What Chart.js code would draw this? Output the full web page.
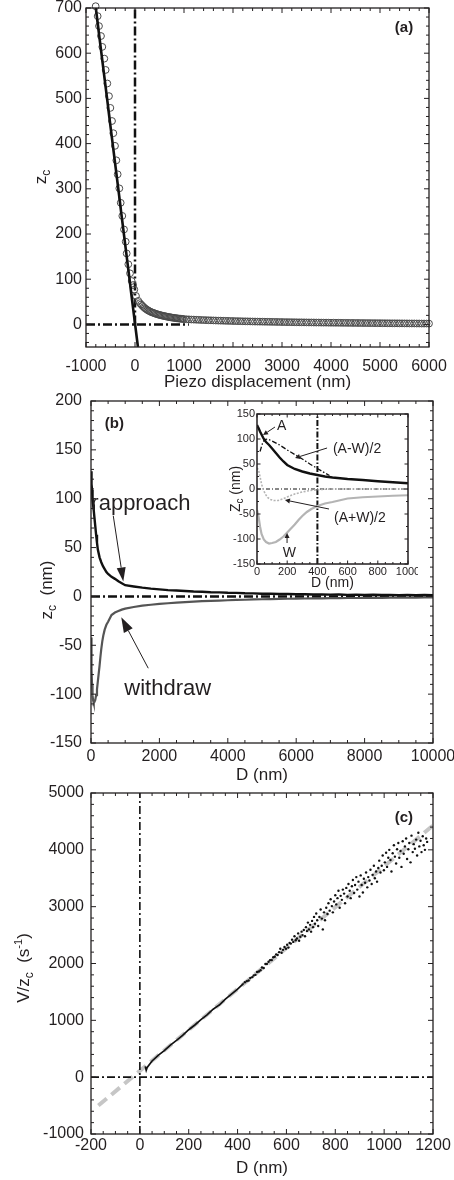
<!DOCTYPE html>
<html><head><meta charset="utf-8">
<script src="https://cdn.jsdelivr.net/npm/chart.js@4/dist/chart.umd.min.js"></script>
<style>
html,body{margin:0;padding:0;background:#fff;}
#wrap{position:relative;width:454px;height:1180px;overflow:hidden;background:#fff;}
canvas{position:absolute;}
</style></head><body>
<div id="wrap">
<canvas id="ca" width="454" height="392" style="left:0;top:0;width:454px;height:392px"></canvas>
<canvas id="cb" width="454" height="396" style="left:0;top:392px;width:454px;height:396px"></canvas>
<canvas id="cc" width="454" height="396" style="left:0;top:784px;width:454px;height:396px"></canvas>
<canvas id="ci" width="196" height="190" style="left:222px;top:404px;width:196px;height:190px"></canvas>
</div>
<script>
// ---------------- Panel (a) data ----------------
const aTicksX = [-1000,0,1000,2000,3000,4000,5000,6000];
const aTicksY = [0,100,200,300,400,500,600,700];
const aPiezo = [-803,-762,-735,-694,-667,-626,-599,-565,-531,-503,-469,-442,-408,-381,-354,-320,-292,-259,-224,-190,-170,-136,-102,-68,-40,-14,20,67,
  100,125,150,175,200,225,250,275,300,325,350,375,400,425,450,475,500,525,550,575,600,625,650,675,700,725,750,775,800,825,850,875,900,925,950,975,1000,
  1050,1100,1150,1200,1250,1300,1350,1400,1450,1500,1550,1600,1650,1700,1750,1800,1850,1900,1950,2000,
  2050,2100,2150,2200,2250,2300,2350,2400,2450,2500,2550,2600,2650,2700,2750,2800,2850,2900,2950,3000,
  3050,3100,3150,3200,3250,3300,3350,3400,3450,3500,3550,3600,3650,3700,3750,3800,3850,3900,3950,4000,
  4050,4100,4150,4200,4250,4300,4350,4400,4450,4500,4550,4600,4650,4700,4750,4800,4850,4900,4950,5000,
  5050,5100,5150,5200,5250,5300,5350,5400,5450,5500,5550,5600,5650,5700,5750,5800,5850,5900,5950,6000];
const aZc = [704,682,660,638,614,588,563,533,505,479,450,423,395,363,332,301,269,240,210,183,157,133,113,96,87,77,63,52,
  47,44,41,38.5,36,34,32,30.5,29,27.5,26.5,25.5,24.5,23.5,22.5,21.7,21,20.3,19.6,19,18.4,17.8,17.2,16.7,16.2,15.7,15.2,14.8,14.4,14,13.6,13.2,12.9,12.6,12.3,12,11.7,
  11.4,11.1,10.8,10.6,10.3,10.1,9.8,9.6,9.4,9.2,9.0,8.8,8.6,8.4,8.3,8.1,7.9,7.8,7.6,7.5,
  7.3,7.2,7.1,6.9,6.8,6.7,6.6,6.4,6.3,6.2,6.1,6.0,5.9,5.8,5.7,5.6,5.5,5.4,5.3,5.2,
  5.1,5.0,5.0,4.9,4.8,4.7,4.6,4.6,4.5,4.4,4.3,4.3,4.2,4.1,4.1,4.0,3.9,3.9,3.8,3.7,
  3.7,3.6,3.6,3.5,3.4,3.4,3.3,3.3,3.2,3.2,3.1,3.1,3.0,3.0,2.9,2.9,2.8,2.8,2.7,2.7,
  2.6,2.6,2.5,2.5,2.4,2.4,2.4,2.3,2.3,2.2,2.2,2.1,2.1,2.1,2.0,2.0,1.9,1.9,1.9,1.8];
const aFitPiezo = [-800, 60];
const aFitZc = [700, -50];
const aRefVX = [0, 0], aRefVY = [0, 700];
const aRefHX = [-1000, 1100], aRefHY = [0, 0];

// ---------------- Panel (b) data ----------------
const bTicksX = [0,2000,4000,6000,8000,10000];
const bTicksY = [-150,-100,-50,0,50,100,150,200];
const approachD = [0,10,20,30,40,50,60,80,100,125,150,175,200,250,300,350,400,450,500,600,700,800,900,
  1000,1250,1500,1750,2000,2250,2500,2750,3000,3250,3500,3750,4000,4250,4500,4750,5000,5250,5500,5750,6000,6250,6500,6750,7000,7250,7500,7750,8000,8250,8500,8750,9000,9250,9500,9750,10000];
const approachZ = [128,122,115,109,103,98,94,88,81,72,63,55,48,40,35,31,28,25,23,20,18,15.5,13.5,
  11.5,10.2,9.0,8.0,7.2,6.5,6.0,5.6,5.0,4.8,4.3,4.1,3.7,3.6,3.2,3.1,2.8,2.8,2.5,2.5,2.2,2.3,2.0,2.1,1.8,1.9,1.6,1.8,1.5,1.7,1.4,1.6,1.3,1.5,1.2,1.4,1.2];
const withdrawD = [0,10,20,30,45,60,80,100,125,150,175,200,225,250,275,300,330,360,400,450,500,600,700,800,900,
  1000,1250,1500,1750,2000,2250,2500,2750,3000,3250,3500,3750,4000,4250,4500,4750,5000,5250,5500,5750,6000,6250,6500,6750,7000,7250,7500,7750,8000,8250,8500,8750,9000,9250,9500,9750,10000];
const withdrawZ = [-42,-55,-75,-90,-101,-106,-109,-108,-106,-101,-95,-87,-79,-71,-62,-54,-46,-40,-34,-29,-26,-19,-16.5,-15,-13.5,
  -12.5,-10.8,-9.5,-8.5,-7.7,-7.0,-6.4,-5.8,-5.3,-4.9,-4.5,-4.2,-3.9,-3.6,-3.4,-3.1,-2.9,-2.7,-2.6,-2.4,-2.3,-2.1,-2.0,-1.9,-1.8,-1.7,-1.6,-1.6,-1.5,-1.4,-1.4,-1.3,-1.3,-1.2,-1.2,-1.1,-1.1];
const bRefHX = [0, 10000], bRefHY = [0, 0];

// inset
const iTicksX = [0,200,400,600,800,1000];
const iTicksY = [-150,-100,-50,0,50,100,150];
const amwD = [20,35,50,70,100,150,200,250,300,350,400,450,480];
const amwZ = [75,90,99,100,96,88,78,69,60,50,41,32,27];
const apwD = [0,10,20,30,40,55,70,90,110,140,170,200,250,300,350,400,450,500,600,800,1000];
const apwZ = [42,38,25,10,0,-10,-17,-21,-23,-23,-20,-16,-10,-6,-3,-1.5,-0.5,0,0,0,0];
const iRefVX = [400, 400], iRefVY = [-150, 150];
const iRefHX = [0, 1000], iRefHY = [0, 0];

// ---------------- Panel (c) data ----------------
const cTicksX = [-200,0,200,400,600,800,1000,1200];
const cTicksY = [-1000,0,1000,2000,3000,4000,5000];
const cFitD = [-170, 1200];
const cFitV = [-500, 4430];
const cLineD = [22,26,30,50,75,100,125,150,175,200,225,250,275,300,318,325,350,375,400,425];
const cLineV = [190,120,170,285,385,468,565,648,735,835,918,1012,1095,1195,1250,1270,1375,1462,1548,1650];
const cDotD = [430,438,445,452,460,466,473,480,487,494,500,507,514,520,527,533,540,546,552,558,564,570,575,580,586,592,598,603,608,613,618,623,628,633,638,643,648,652,657,662,666,671,676,680,684,688,692,697,701,705,709,713,717,722,726,730,735,740,745,749,754,758,763,768,772,777,781,786,790,795,800,804,809,813,818,822,827,831,836,840,845,850,854,859,863,868,872,877,881,886,890,895,899,904,908,913,917,922,926,931,935,940,944,949,953,958,962,967,971,976,980,985,990,994,999,1003,1008,1012,1017,1021,1026,1030,1035,1040,1044,1049,1053,1058,1062,1067,1071,1076,1080,1085,1090,1094,1099,1103,1108,1112,1117,1121,1126,1131,1135,1140,1144,1149,1153,1158,1162,1167,1172,1176];
const cDotV = [1670,1690,1700,1745,1760,1790,1800,1850,1860,1880,1930,1920,1990,1990,2030,2060,2060,2110,2120,2160,2150,2200,2260,2190,2240,2290,2260,2330,2280,2360,2350,2420,2380,2480,2410,2440,2530,2400,2470,2560,2500,2590,2480,2640,2570,2720,2600,2680,2560,2750,2640,2820,2700,2880,2760,2660,2820,2950,2790,2600,2900,2760,2980,2870,3060,2930,3130,3010,2900,3090,3200,3040,3150,3280,2980,3190,3120,3300,3230,3060,3330,3180,3400,3280,3150,3360,3470,3240,3380,3520,3300,3440,3180,3550,3380,3250,3490,3420,3600,3340,3520,3460,3650,3400,3560,3720,3500,3620,3440,3680,3810,3600,3720,3900,3640,3780,3950,3700,3860,4000,3820,3620,3940,4080,3880,3760,4010,4120,3860,3980,3700,4150,3930,4060,4200,3840,4010,4120,3780,4250,3960,4100,4020,4180,3900,4300,4060,4160,3960,4240,4080,4000,4200,4140];
const cRefVX = [0, 0], cRefVY = [-1000, 5000];
const cRefHX = [-200, 1200], cRefHY = [0, 0];

// ---------------- helpers ----------------
const FONT = "'Liberation Sans', Arial, Helvetica, sans-serif";
const INK = '#231f20';
const DASHDOT = [9, 3, 2, 3];
Chart.defaults.font.family = FONT;
const pts = (xs, ys) => xs.map((x, i) => ({x: x, y: ys[i]}));
const lineDs = (xs, ys, color, width, dash) => ({
  data: pts(xs, ys), showLine: true, borderColor: color, borderWidth: width,
  borderDash: dash || [], pointRadius: 0, tension: 0, fill: false
});

function scales(o) {
  const zeroPad = s => { s.paddingLeft = 0; s.paddingRight = 0; s.paddingTop = 0; s.paddingBottom = 0; };
  return {
    x: {
      type: 'linear', position: 'bottom', min: o.xMin, max: o.xMax,
      grid: {display: false, drawTicks: false}, border: {display: false},
      ticks: {autoSkip: false, maxRotation: 0, minRotation: 0, padding: o.xPad, color: INK,
        font: {family: FONT, size: o.tickSize}, callback: v => String(v)},
      afterBuildTicks: s => { s.ticks = o.xTicks.map(v => ({value: v})); },
      afterFit: s => { s.height = o.xHeight; zeroPad(s); },
      title: {display: true, text: o.xTitle, color: INK, font: {family: FONT, size: o.titleSize},
        padding: {top: 0, bottom: o.xTitlePad}}
    },
    y: {
      type: 'linear', position: 'left', min: o.yMin, max: o.yMax,
      grid: {display: false, drawTicks: false}, border: {display: false},
      ticks: {autoSkip: false, padding: o.yPad, color: INK,
        font: {family: FONT, size: o.tickSize}, callback: v => String(v)},
      afterBuildTicks: s => { s.ticks = o.yTicks.map(v => ({value: v})); },
      afterFit: s => { s.width = o.yWidth; zeroPad(s); }
    }
  };
}

function drawArrow(ctx, x1, y1, x2, y2, hl, hw) {
  const a = Math.atan2(y2 - y1, x2 - x1);
  const bx = x2 - hl * Math.cos(a), by = y2 - hl * Math.sin(a);
  ctx.beginPath(); ctx.moveTo(x1, y1); ctx.lineTo(bx, by); ctx.stroke();
  ctx.beginPath(); ctx.moveTo(x2, y2);
  ctx.lineTo(bx + hw * Math.sin(a), by - hw * Math.cos(a));
  ctx.lineTo(bx - hw * Math.sin(a), by + hw * Math.cos(a));
  ctx.closePath(); ctx.fill();
}

function drawRotTitle(ctx, cx, cy, parts) {
  ctx.save(); ctx.translate(cx, cy); ctx.rotate(-Math.PI / 2);
  ctx.fillStyle = INK; ctx.textBaseline = 'alphabetic'; ctx.textAlign = 'left';
  let total = 0;
  parts.forEach(p => { ctx.font = p.s + 'px ' + FONT; p.w = ctx.measureText(p.t).width; total += p.w; });
  let x = -total / 2; const base = parts[0].s * 0.36;
  parts.forEach(p => { ctx.font = p.s + 'px ' + FONT; ctx.fillText(p.t, x, base + (p.dy || 0)); x += p.w; });
  ctx.restore();
}

function decor(cfg) {
  return {
    id: 'decor',
    afterDatasetsDraw(chart) {
      const ctx = chart.ctx, ca = chart.chartArea, sx = chart.scales.x, sy = chart.scales.y;
      ctx.save();
      ctx.strokeStyle = INK; ctx.lineWidth = cfg.tickWidth;
      ctx.beginPath();
      const add = (scale, minor, majors, horiz) => {
        const s = Math.ceil(scale.min / minor - 1e-9), e = Math.floor(scale.max / minor + 1e-9);
        for (let i = s; i <= e; i++) {
          const v = i * minor;
          const maj = majors.some(m => Math.abs(m - v) < 1e-6);
          const len = maj ? cfg.majorLen : cfg.minorLen;
          const p = scale.getPixelForValue(v);
          if (horiz) { ctx.moveTo(p, ca.bottom); ctx.lineTo(p, ca.bottom - len); ctx.moveTo(p, ca.top); ctx.lineTo(p, ca.top + len); }
          else { ctx.moveTo(ca.left, p); ctx.lineTo(ca.left + len, p); ctx.moveTo(ca.right, p); ctx.lineTo(ca.right - len, p); }
        }
      };
      add(sx, cfg.xMinor, cfg.xMajors, true);
      add(sy, cfg.yMinor, cfg.yMajors, false);
      ctx.stroke();
      ctx.lineWidth = cfg.frameWidth;
      ctx.strokeRect(ca.left, ca.top, ca.right - ca.left, ca.bottom - ca.top);
      if (cfg.yTitle) drawRotTitle(ctx, cfg.yTitleX, cfg.yTitleY, cfg.yTitle);
      ctx.fillStyle = INK;
      (cfg.texts || []).forEach(t => {
        ctx.font = (t.bold ? 'bold ' : '') + t.s + 'px ' + FONT;
        ctx.textAlign = t.align || 'left'; ctx.textBaseline = t.base || 'alphabetic';
        ctx.fillText(t.t, sx.getPixelForValue(t.x), sy.getPixelForValue(t.y));
      });
      ctx.strokeStyle = INK; ctx.lineWidth = cfg.arrowWidth || 1;
      (cfg.arrows || []).forEach(a => {
        drawArrow(ctx, sx.getPixelForValue(a.x1), sy.getPixelForValue(a.y1),
          sx.getPixelForValue(a.x2), sy.getPixelForValue(a.y2), a.hl, a.hw);
      });
      ctx.restore();
    }
  };
}

function baseOptions(pad, sc) {
  return {
    responsive: false, animation: false, devicePixelRatio: 1, events: [],
    layout: {padding: pad},
    plugins: {legend: {display: false}, tooltip: {enabled: false}},
    scales: sc
  };
}

// ---------------- Chart (a) ----------------
new Chart(document.getElementById('ca'), {
  type: 'scatter',
  data: {datasets: [
    lineDs(aFitPiezo, aFitZc, '#111', 2.6),
    {data: pts(aPiezo, aZc), showLine: false, pointRadius: 3.4, pointBorderWidth: 1,
      pointBorderColor: '#4a4a4a', pointBackgroundColor: 'rgba(0,0,0,0)', clip: false},
    lineDs(aRefVX, aRefVY, '#111', 2.5, DASHDOT),
    lineDs(aRefHX, aRefHY, '#111', 2.5, DASHDOT)
  ]},
  options: baseOptions({left: 0, right: 25, top: 8, bottom: 0}, scales({
    xMin: -1000, xMax: 6000, yMin: -50, yMax: 700, xTicks: aTicksX, yTicks: aTicksY,
    xPad: 10, yPad: 4, tickSize: 16, titleSize: 17, xHeight: 45, yWidth: 86,
    xTitle: 'Piezo displacement (nm)', xTitlePad: -1
  })),
  plugins: [decor({
    xMinor: 200, xMajors: aTicksX, yMinor: 20, yMajors: aTicksY,
    majorLen: 5, minorLen: 3, tickWidth: 1, frameWidth: 1.3,
    yTitleX: 40, yTitleY: 177, yTitle: [{t: 'z', s: 17}, {t: 'c', s: 12, dy: 4}],
    texts: [{t: '(a)', x: 5490, y: 655, s: 15, bold: true, align: 'center', base: 'middle'}]
  })]
});

// ---------------- Chart (b) ----------------
new Chart(document.getElementById('cb'), {
  type: 'scatter',
  data: {datasets: [
    lineDs(approachD, approachZ, '#111', 2.4),
    lineDs(withdrawD, withdrawZ, '#555', 2.2),
    lineDs(bRefHX, bRefHY, '#111', 2.5, DASHDOT)
  ]},
  options: baseOptions({left: 0, right: 21, top: 9, bottom: 0}, scales({
    xMin: 0, xMax: 10000, yMin: -150, yMax: 200, xTicks: bTicksX, yTicks: bTicksY,
    xPad: 4, yPad: 9, tickSize: 16, titleSize: 17, xHeight: 45, yWidth: 91,
    xTitle: 'D (nm)', xTitlePad: 2
  })),
  plugins: [decor({
    xMinor: 500, xMajors: bTicksX, yMinor: 10, yMajors: bTicksY,
    majorLen: 5, minorLen: 3, tickWidth: 1, frameWidth: 1.3,
    yTitleX: 46, yTitleY: 198, yTitle: [{t: 'z', s: 17}, {t: 'c', s: 12, dy: 4}, {t: '  (nm)', s: 17}],
    texts: [
      {t: '(b)', x: 684, y: 176.5, s: 15, bold: true, align: 'center', base: 'middle'},
      {t: 'rapproach', x: 10, y: 88, s: 22},
      {t: 'withdraw', x: 973, y: -101, s: 22}
    ],
    arrows: [
      {x1: 651, y1: 82.6, x2: 944, y2: 15.3, hl: 14, hw: 4.5},
      {x1: 1674, y1: -73.5, x2: 885, y2: -21.4, hl: 15, hw: 5}
    ]
  })]
});

// ---------------- Inset ----------------
new Chart(document.getElementById('ci'), {
  type: 'scatter',
  data: {datasets: [
    lineDs(amwD, amwZ, '#111', 1.3, [5, 2, 1.5, 2]),
    lineDs(approachD, approachZ, '#111', 2.4),
    lineDs(apwD, apwZ, '#b4b4b4', 1.6, [2, 1.5]),
    lineDs(withdrawD, withdrawZ, '#b4b4b4', 2.2),
    lineDs(iRefVX, iRefVY, '#111', 2, [6, 2, 1.5, 2]),
    lineDs(iRefHX, iRefHY, '#111', 1, [4, 2, 1, 2])
  ]},
  options: baseOptions({left: 0, right: 10, top: 10, bottom: 0}, scales({
    xMin: 0, xMax: 1000, yMin: -150, yMax: 150, xTicks: iTicksX, yTicks: iTicksY,
    xPad: 1, yPad: 2, tickSize: 11, titleSize: 14, xHeight: 30, yWidth: 35,
    xTitle: 'D (nm)', xTitlePad: 2.6
  })),
  plugins: [decor({
    xMinor: 50, xMajors: iTicksX, yMinor: 25, yMajors: iTicksY,
    majorLen: 3.5, minorLen: 2, tickWidth: 1, frameWidth: 1.5,
    yTitleX: 12.5, yTitleY: 85, yTitle: [{t: 'Z', s: 14}, {t: 'c', s: 10, dy: 3}, {t: ' (nm)', s: 14}],
    texts: [
      {t: 'A', x: 132, y: 118, s: 14},
      {t: '(A-W)/2', x: 503, y: 72, s: 14},
      {t: '(A+W)/2', x: 510, y: -66, s: 14},
      {t: 'W', x: 215, y: -136, s: 14, align: 'center'}
    ],
    arrows: [
      {x1: 119, y1: 124, x2: 40, y2: 108, hl: 5, hw: 2.5},
      {x1: 464, y1: 82, x2: 252, y2: 62, hl: 5, hw: 2.5},
      {x1: 477, y1: -40, x2: 185, y2: -22, hl: 5, hw: 2.5},
      {x1: 199, y1: -108, x2: 199, y2: -88, hl: 5, hw: 2.5}
    ]
  })]
});

// ---------------- Chart (c) ----------------
new Chart(document.getElementById('cc'), {
  type: 'scatter',
  data: {datasets: [
    {data: pts(cDotD, cDotV), showLine: false, pointRadius: 1.2, pointBorderWidth: 0, pointBackgroundColor: '#111'},
    lineDs(cLineD, cLineV, '#111', 1.7),
    lineDs(cRefVX, cRefVY, '#111', 1.6, [8, 3, 2, 3]),
    lineDs(cRefHX, cRefHY, '#111', 1.6, [8, 3, 2, 3]),
    lineDs(cFitD, cFitV, '#c6c6c6', 4, [11, 6])
  ]},
  options: baseOptions({left: 0, right: 21, top: 9, bottom: 0}, scales({
    xMin: -200, xMax: 1200, yMin: -1000, yMax: 5000, xTicks: cTicksX, yTicks: cTicksY,
    xPad: 2, yPad: 7, tickSize: 16, titleSize: 17, xHeight: 46, yWidth: 91,
    xTitle: 'D (nm)', xTitlePad: 1.8
  })),
  plugins: [decor({
    xMinor: 50, xMajors: cTicksX, yMinor: 200, yMajors: cTicksY,
    majorLen: 5, minorLen: 3, tickWidth: 1, frameWidth: 1.3,
    yTitleX: 23, yTitleY: 184,
    yTitle: [{t: 'V/z', s: 17}, {t: 'c', s: 12, dy: 4}, {t: '  (s', s: 17}, {t: '-1', s: 11, dy: -7}, {t: ')', s: 17}],
    texts: [{t: '(c)', x: 1081, y: 4555, s: 15, bold: true, align: 'center', base: 'middle'}]
  })]
});
</script>
</body></html>
